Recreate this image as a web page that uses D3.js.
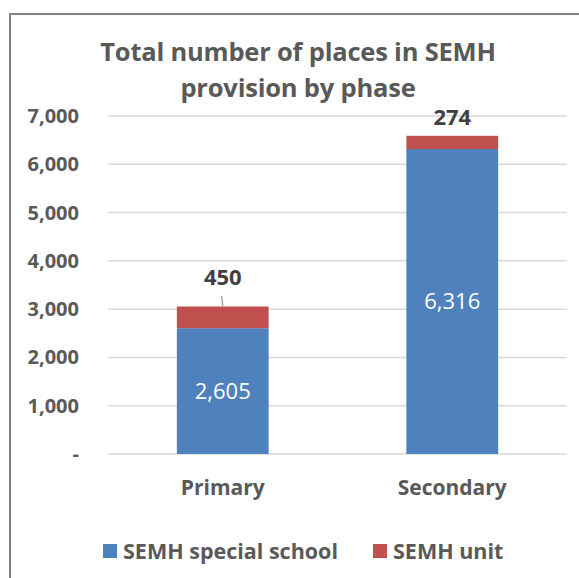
<!DOCTYPE html>
<html>
<head>
<meta charset="utf-8">
<script src="https://cdn.jsdelivr.net/npm/d3@7"></script>
<style>
  body { margin: 0; background: #fff; }
  svg { display: block; font-family: "Open Sans", sans-serif; }
</style>
</head>
<body>
<svg id="chart" width="579" height="578"></svg>
<script>
// data
const phases = ["Primary", "Secondary"];
const specialSchool = [2605, 6316];
const unit = [450, 274];
const seriesNames = ["SEMH special school", "SEMH unit"];
const yTicks = [0, 1000, 2000, 3000, 4000, 5000, 6000, 7000];

const colors = ["#4F81BD", "#C0504D"];
const textCol = "#595959";

const svg = d3.select("#chart");

// outer border (only left and top visible in the crop)
svg.append("path")
  .attr("d", "M10,578 L10,14 L579,14")
  .attr("fill", "none")
  .attr("stroke", "#808080")
  .attr("stroke-width", 2);

// title
const title = svg.append("text")
  .attr("text-anchor", "middle")
  .attr("font-weight", "bold")
  .attr("font-size", 25.5)
  .attr("letter-spacing", -0.2)
  .attr("fill", textCol);
title.append("tspan").attr("x", 298).attr("y", 61).text("Total number of places in SEMH");
title.append("tspan").attr("x", 298).attr("y", 97).text("provision by phase");

const x = d3.scaleBand()
  .domain(phases)
  .range([108, 567])
  .paddingInner(0.6)
  .paddingOuter(0.3);

const y = d3.scaleLinear()
  .domain([0, 7000])
  .range([454, 116]);

// gridlines
svg.append("g")
  .selectAll("line")
  .data(yTicks)
  .join("line")
  .attr("x1", 108)
  .attr("x2", 567)
  .attr("y1", d => y(d))
  .attr("y2", d => y(d))
  .attr("stroke", "#D9D9D9")
  .attr("stroke-width", 1.5);

// y axis labels
const fmt = d3.format(",");
svg.append("g")
  .selectAll("text")
  .data(yTicks)
  .join("text")
  .attr("x", 79)
  .attr("y", d => y(d))
  .attr("dy", "0.35em")
  .attr("text-anchor", "end")
  .attr("font-weight", "bold")
  .attr("font-size", 20)
  .attr("fill", textCol)
  .text(d => d === 0 ? "-" : fmt(d));

// stacked bars
const rows = phases.map((p, i) => ({ phase: p, a: specialSchool[i], b: unit[i] }));

const bars = svg.append("g");
bars.selectAll("rect.a")
  .data(rows)
  .join("rect")
  .attr("class", "a")
  .attr("x", d => x(d.phase))
  .attr("width", x.bandwidth())
  .attr("y", d => y(d.a))
  .attr("height", d => y(0) - y(d.a))
  .attr("fill", colors[0]);

bars.selectAll("rect.b")
  .data(rows)
  .join("rect")
  .attr("class", "b")
  .attr("x", d => x(d.phase))
  .attr("width", x.bandwidth())
  .attr("y", d => y(d.a + d.b))
  .attr("height", d => y(d.a) - y(d.a + d.b))
  .attr("fill", colors[1]);

// inner labels (special school)
svg.append("g")
  .selectAll("text")
  .data(rows)
  .join("text")
  .attr("x", d => x(d.phase) + x.bandwidth() / 2)
  .attr("y", d => (y(0) + y(d.a)) / 2)
  .attr("dy", "0.35em")
  .attr("text-anchor", "middle")
  .attr("font-size", 22)
  .attr("fill", "#fff")
  .text(d => fmt(d.a));

// unit labels above the bars
const unitLabelY = [277, 117];
svg.append("g")
  .selectAll("text")
  .data(rows)
  .join("text")
  .attr("x", d => x(d.phase) + x.bandwidth() / 2)
  .attr("y", (d, i) => unitLabelY[i])
  .attr("dy", "0.35em")
  .attr("text-anchor", "middle")
  .attr("font-weight", "bold")
  .attr("font-size", 22)
  .attr("fill", "#404040")
  .text(d => fmt(d.b));

// leader line for primary
svg.append("line")
  .attr("x1", x(phases[0]) + x.bandwidth() / 2 - 1)
  .attr("x2", x(phases[0]) + x.bandwidth() / 2)
  .attr("y1", 296)
  .attr("y2", y(rows[0].a + rows[0].b))
  .attr("stroke", "#A6A6A6")
  .attr("stroke-width", 1.5);

// category labels
svg.append("g")
  .selectAll("text")
  .data(phases)
  .join("text")
  .attr("x", d => x(d) + x.bandwidth() / 2)
  .attr("y", 488)
  .attr("dy", "0.35em")
  .attr("text-anchor", "middle")
  .attr("font-weight", "bold")
  .attr("font-size", 21)
  .attr("fill", textCol)
  .text(d => d);

// legend
const legendX = [103, 373];
const lg = svg.append("g")
  .selectAll("g")
  .data(seriesNames)
  .join("g")
  .attr("transform", (d, i) => `translate(${legendX[i]},551)`);
lg.append("rect")
  .attr("x", 0)
  .attr("y", -7)
  .attr("width", 14)
  .attr("height", 14)
  .attr("fill", (d, i) => colors[i]);
lg.append("text")
  .attr("x", 20)
  .attr("dy", "0.35em")
  .attr("font-weight", "bold")
  .attr("font-size", 21.5)
  .attr("fill", textCol)
  .text(d => d);
</script>
</body>
</html>
